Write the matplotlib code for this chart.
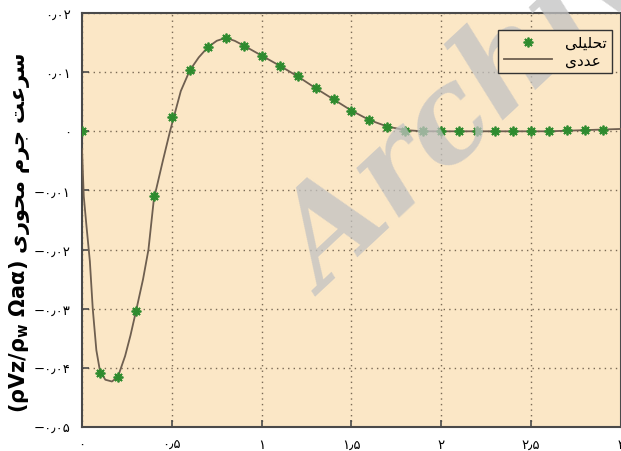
import matplotlib
matplotlib.use("Agg")
import matplotlib.pyplot as plt

plt.rcParams['font.family'] = ['DejaVu Sans']

# numerical solution (line)
x_num = [0, 0.01, 0.025, 0.044, 0.06, 0.08, 0.1, 0.13, 0.167, 0.2, 0.24, 0.27, 0.3,
         0.34, 0.37, 0.4, 0.45, 0.49, 0.55, 0.6, 0.65, 0.7, 0.75, 0.8, 0.85, 0.9,
         1.0, 1.1, 1.2, 1.3, 1.4, 1.5, 1.6, 1.7, 1.8, 1.9, 2.0, 2.2, 2.4, 2.6,
         2.7, 2.8, 2.9, 3.0]
y_num = [-0.003, -0.011, -0.016, -0.022, -0.03, -0.037, -0.0405, -0.042, -0.0423,
         -0.0415, -0.038, -0.0345, -0.0305, -0.025, -0.02, -0.0115, -0.005, 0.0,
         0.0068, 0.0103, 0.0125, 0.0142, 0.0153, 0.0158, 0.0153, 0.0145,
         0.0128, 0.0111, 0.0093, 0.0073, 0.0054, 0.0035, 0.0019, 0.0008, 0.0002,
         0.0, 0.0, 0.0, 0.0, 0.0, 0.0001, 0.0002, 0.0003, 0.0004]

# analytical solution (markers)
x_ana = [0, 0.1, 0.2, 0.3, 0.4, 0.5, 0.6, 0.7, 0.8, 0.9, 1.0, 1.1, 1.2, 1.3, 1.4,
         1.5, 1.6, 1.7, 1.8, 1.9, 2.0, 2.1, 2.2, 2.3, 2.4, 2.5, 2.6, 2.7, 2.8, 2.9]
y_ana = [0.0, -0.0408, -0.0415, -0.0304, -0.011, 0.0025, 0.0103, 0.0142, 0.0158,
         0.0145, 0.0128, 0.0111, 0.0093, 0.0073, 0.0054, 0.0035, 0.0019, 0.0007,
         0.0001, 0.0, 0.0, 0.0, 0.0, 0.0, 0.0, 0.0, 0.0001, 0.0002, 0.0003, 0.0003]

xticks = [0, 0.5, 1, 1.5, 2, 2.5, 3]
xtick_labels = ['\u06f0', '\u06f0\u066b\u06f5', '\u06f1', '\u06f1\u066b\u06f5', '\u06f2',
                '\u06f2\u066b\u06f5', '\u06f3']
yticks = [-0.05, -0.04, -0.03, -0.02, -0.01, 0, 0.01, 0.02]
ytick_labels = ['\u2212\u06f0\u066b\u06f0\u06f5', '\u2212\u06f0\u066b\u06f0\u06f4',
                '\u2212\u06f0\u066b\u06f0\u06f3', '\u2212\u06f0\u066b\u06f0\u06f2',
                '\u2212\u06f0\u066b\u06f0\u06f1', '\u06f0',
                '\u06f0\u066b\u06f0\u06f1', '\u06f0\u066b\u06f0\u06f2']

# pre-shaped Persian text (presentation forms, visual order)
lbl_ana = '\ufbfd\ufee0\ufbff\ufee0\ufea4\ufe97'        # تحلیلی
lbl_num = '\ufbfc\ufea9\ufeaa\ufecb'                    # عددی
ylab = ('(\u03c1Vz/\u03c1$_\\mathregular{w}$ \u03a9a\u03b1) '
        '\ufbfc\ufead\ufeee\ufea4\ufee3 \ufee1\ufeae\ufe9f \ufe96\ufecb\ufeae\ufeb3')

fig = plt.figure(figsize=(6.21, 4.52), dpi=100)
ax = fig.add_axes([0.132, 0.053, 0.868, 0.916])
ax.set_facecolor('#fbe7c6')

ax.plot(x_num, y_num, color='#6e5f50', lw=1.3, label=lbl_num, zorder=3)
ax.plot(x_ana, y_ana, ls='none', marker=(8, 2, 0), ms=7, mew=1.3,
        color='#2e8b2e', label=lbl_ana, zorder=4)

ax.set_xlim(0, 3)
ax.set_ylim(-0.05, 0.02)
ax.set_xticks(xticks)
ax.set_xticklabels(xtick_labels)
ax.set_yticks(yticks)
ax.set_yticklabels(ytick_labels)
ax.tick_params(direction='in', length=5, width=1.2, color='#4a4a4a', labelsize=9.5, pad=8)
ax.grid(True, ls=(0, (1, 3)), color='#7a6a55', lw=1.0)
for s in ax.spines.values():
    s.set_color('#4a4a4a')
    s.set_linewidth(1.5)

ax.set_ylabel(ylab, fontsize=15, fontweight='bold')
ax.yaxis.set_label_coords(-0.093, 0.47)

# watermark
ax.text(0.525, 0.345, 'Archive', transform=fig.transFigure, fontsize=92,
        fontweight='bold', style='italic', family='DejaVu Serif', color='#c2c2c2',
        alpha=0.75, rotation=43, rotation_mode='anchor', ha='left', va='baseline',
        zorder=6, clip_on=False)

leg = ax.legend(handles=[ax.lines[1], ax.lines[0]], loc='upper right',
                bbox_to_anchor=(0.997, 0.978), fancybox=False, framealpha=1,
                facecolor='#fbe7c6', edgecolor='#333333', fontsize=11,
                handlelength=3.2, borderpad=0.35, labelspacing=0.15)
leg.get_frame().set_linewidth(1.0)
leg.set_zorder(10)

fig.savefig('out.png', dpi=100, facecolor='white')
